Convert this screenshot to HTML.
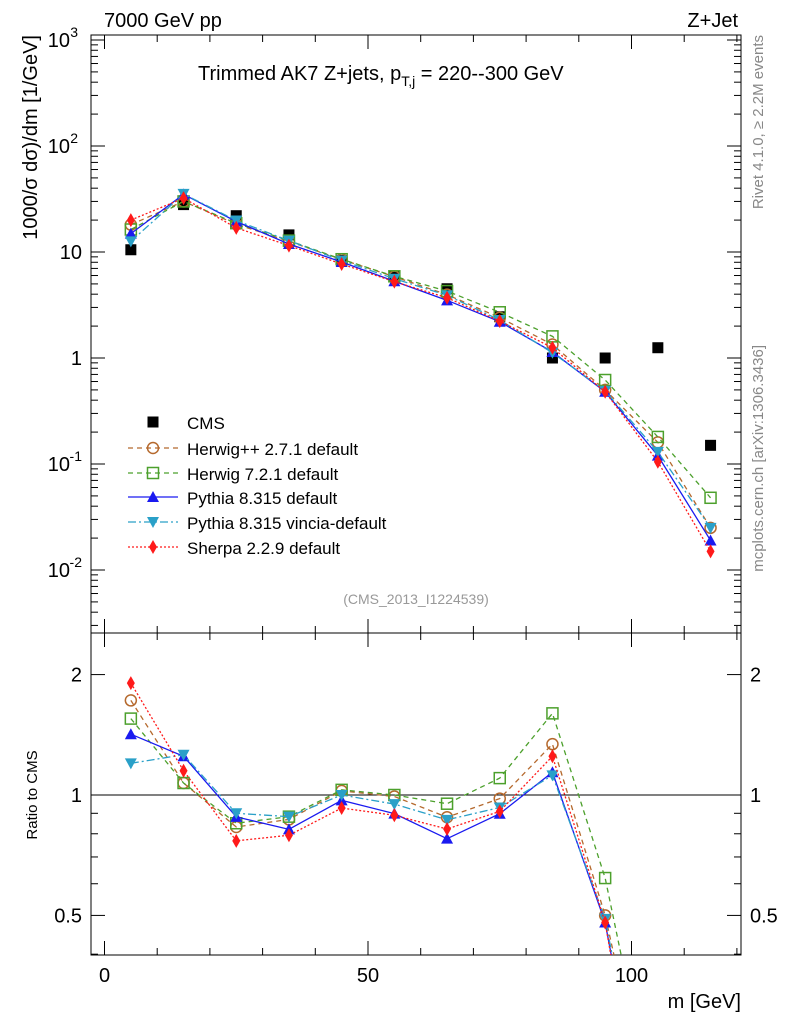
<!DOCTYPE html>
<html><head><meta charset="utf-8"><style>
html,body{margin:0;padding:0;background:#fff;width:786px;height:1024px;overflow:hidden}
svg{display:block;font-family:"Liberation Sans",sans-serif;overflow:hidden}
</style></head><body>
<svg id="c" width="786" height="1024" xmlns="http://www.w3.org/2000/svg"></svg>
<script>
const xs=[5,15,25,35,45,55,65,75,85,95,105,115];
const cms=[10.5,28,22,14.5,8.3,5.9,4.5,2.45,1.0,1.0,1.25,0.15];
const herwigpp=[18.1,30,18.3,12.6,8.5,5.85,3.96,2.4,1.34,0.5,0.16,0.025];
const herwig7=[16.3,30,18.7,12.8,8.55,5.9,4.28,2.7,1.6,0.62,0.18,0.048];
const pythia=[14.9,35,19.4,11.9,8.05,5.3,3.5,2.2,1.14,0.48,0.12,0.019];
const vincia=[12.6,35.3,19.8,12.8,8.3,5.6,3.9,2.28,1.12,0.49,0.13,0.025];
const sherpa=[20,32.2,16.9,11.5,7.7,5.25,3.7,2.23,1.25,0.48,0.105,0.015];
const xTicks=[0,50,100];
const yTicks=[0.01,0.1,1,10,100,1000];
const yTickLabels=["10","10","1","10","10","10"];
const yTickExp=["-2","-1","","","2","3"];
const rTicks=[0.5,1,2];
const rTickLabels=["0.5","1","2"];

const svg=document.getElementById('c');
const NS="http://www.w3.org/2000/svg";
function el(t,a,p){const e=document.createElementNS(NS,t);for(const k in a)e.setAttribute(k,a[k]);(p||svg).appendChild(e);return e;}
const L=91,R=741,T=35,M=633,B=955;
const X=v=>104.5+v*5.27;
const Y=v=>358-106*Math.log10(v);
const RY=v=>795-400*Math.log10(v);

let f=el('rect',{x:L,y:T,width:R-L,height:M-T,fill:'none',stroke:'#000','stroke-width':1});

f=el('rect',{x:L,y:M,width:R-L,height:B-M,fill:'none',stroke:'#000','stroke-width':1});


for(let v=0;v<=120;v+=10){const maj=v%50==0;const len=maj?14:7;
 for(const [y0,d] of [[M,-1],[B,-1],[T,1],[M,1]]){el('line',{x1:X(v),x2:X(v),y1:y0,y2:y0+d*len,stroke:'#000'});}}
xTicks.forEach(v=>{const t=el('text',{x:X(v),y:982,'font-size':20,'text-anchor':'middle'});t.textContent=v;
 });
for(let d=-3;d<=3;d++)for(let m=1;m<10;m++){const v=m*Math.pow(10,d);const y=Y(v);if(y<T||y>M)continue;const len=m==1?14:7;
 el('line',{x1:L,x2:L+len,y1:y,y2:y,stroke:'#000'});el('line',{x1:R,x2:R-len,y1:y,y2:y,stroke:'#000'});}
yTicks.forEach((v,i)=>{const t=el('text',{x:yTickExp[i]?70:82,y:Y(v)+7,'font-size':20,'text-anchor':'end'});t.textContent=yTickLabels[i];
 
 if(yTickExp[i]){const e=el('text',{x:yTickExp[i].length>1?82:78,y:Y(v)-3,'font-size':14,'text-anchor':'end'});e.textContent=yTickExp[i];
 }});
[0.4,0.5,0.6,0.7,0.8,0.9,1,2].forEach(v=>{const y=RY(v);const maj=rTicks.includes(v);const len=maj?14:7;
 el('line',{x1:L,x2:L+len,y1:y,y2:y,stroke:'#000'});el('line',{x1:R,x2:R-len,y1:y,y2:y,stroke:'#000'});});
rTicks.forEach((v,i)=>{for(const [x,a] of [[82,'end'],[750,'start']]){const t=el('text',{x:x,y:RY(v)+7,'font-size':20,'text-anchor':a});t.textContent=rTickLabels[i];
 }});
el('line',{x1:L,x2:R,y1:RY(1),y2:RY(1),stroke:'#000'});

function txt(s,a,name){const t=el('text',a);t.textContent=s;return t;}
txt('7000 GeV pp',{x:104,y:27,'font-size':20},'beam-label');
txt('Z+Jet',{x:738,y:27,'font-size':20,'text-anchor':'end'},'process-label');
const ti=txt('Trimmed AK7 Z+jets, p',{x:198,y:80,'font-size':20},'plot-title');
const ts=el('tspan',{'font-size':14,dy:6},ti);ts.textContent='T,j';
const ts2=el('tspan',{'font-size':20,dy:-6},ti);ts2.textContent=' = 220--300 GeV';
txt('(CMS_2013_I1224539)',{x:416,y:604,'font-size':14,fill:'#999','text-anchor':'middle'},'analysis-id');
txt('m [GeV]',{x:741,y:1008,'font-size':20,'text-anchor':'end'},'x-axis-title');
txt('1000/σ   dσ)/dm [1/GeV]',{x:0,y:0,'font-size':20,'text-anchor':'end',transform:'translate(37,35) rotate(-90)'},'y-axis-title');
txt('Ratio to CMS',{x:0,y:0,'font-size':15,'text-anchor':'middle',transform:'translate(37,795) rotate(-90)'},'ratio-axis-title');
txt('Rivet 4.1.0, ≥ 2.2M events',{x:0,y:0,'font-size':15,fill:'#888','text-anchor':'end',transform:'translate(763,35) rotate(-90)'},'rivet-label');
txt('mcplots.cern.ch [arXiv:1306.3436]',{x:0,y:0,'font-size':15,fill:'#888','text-anchor':'end',transform:'translate(763,345) rotate(-90)'},'mcplots-label');

function marker(g,type,x,y,col){
 if(type=='sq')el('rect',{x:x-5.5,y:y-5.5,width:11,height:11,fill:'#000'},g);
 else if(type=='circ')el('circle',{cx:x,cy:y,r:5.5,fill:'none',stroke:col,'stroke-width':1.5},g);
 else if(type=='osq')el('rect',{x:x-5.5,y:y-5.5,width:11,height:11,fill:'none',stroke:col,'stroke-width':1.5},g);
 else if(type=='tri')el('polygon',{points:`${x},${y-6} ${x-6},${y+5} ${x+6},${y+5}`,fill:col},g);
 else if(type=='itri')el('polygon',{points:`${x},${y+6} ${x-6},${y-5} ${x+6},${y-5}`,fill:col},g);
 else if(type=='dia')el('polygon',{points:`${x},${y-7} ${x-4},${y} ${x},${y+7} ${x+4},${y}`,fill:col},g);
}
// clip a polyline against horizontal bounds [top,bot], return list of point-lists
function clipPoly(pts,top,bot){
 const out=[];let cur=[];
 const inside=p=>p[1]>=top&&p[1]<=bot;
 const cross=(a,b,yl)=>[a[0]+(b[0]-a[0])*(yl-a[1])/(b[1]-a[1]),yl];
 for(let i=0;i<pts.length;i++){
  const p=pts[i];
  if(i>0){const q=pts[i-1];
   const qi=inside(q),pi=inside(p);
   if(qi&&!pi){cur.push(cross(q,p,p[1]>bot?bot:top));out.push(cur);cur=[];}
   else if(!qi&&pi){cur=[cross(q,p,q[1]>bot?bot:top)];}
  }
  if(inside(p))cur.push(p);
 }
 if(cur.length>1)out.push(cur);
 return out;
}
const series=[
 {name:'herwigpp',label:'Herwig++ 2.7.1 default',d:herwigpp,col:'#b5692d',dash:'5,4',m:'circ'},
 {name:'herwig7',label:'Herwig 7.2.1 default',d:herwig7,col:'#4ca02c',dash:'5,4',m:'osq'},
 {name:'pythia',label:'Pythia 8.315 default',d:pythia,col:'#1a1af0',dash:'',m:'tri'},
 {name:'vincia',label:'Pythia 8.315 vincia-default',d:vincia,col:'#2aa0c8',dash:'8,3,2,3',m:'itri'},
 {name:'sherpa',label:'Sherpa 2.2.9 default',d:sherpa,col:'#ff1a1a',dash:'2,2',m:'dia'}];

const gc=el('g',{});
xs.forEach((x,i)=>marker(gc,'sq',X(x),Y(cms[i])));
series.forEach(s=>{
 const g=el('g',{});
 el('polyline',{points:xs.map((x,i)=>X(x)+','+Y(s.d[i])).join(' '),fill:'none',stroke:s.col,'stroke-width':1.3,'stroke-dasharray':s.dash},g);
 xs.forEach((x,i)=>marker(g,s.m,X(x),Y(s.d[i]),s.col));
 const gr=el('g',{});
 const pts=xs.map((x,i)=>[X(x),RY(s.d[i]/cms[i])]);
 clipPoly(pts,M,B).forEach(seg=>{
  el('polyline',{points:seg.map(p=>p[0]+','+p[1]).join(' '),fill:'none',stroke:s.col,'stroke-width':1.3,'stroke-dasharray':s.dash},gr);
 });
 pts.forEach(p=>{if(p[1]>=M+6&&p[1]<=B-6)marker(gr,s.m,p[0],p[1],s.col);});
});

const lg=el('g',{});
const rowsY=[422,448,473,497,522,547];
marker(lg,'sq',153,rowsY[0]);
txt('CMS',{x:187,y:rowsY[0]+7,'font-size':17},'legend-entry');
series.forEach((s,i)=>{const y=rowsY[i+1];
 el('line',{x1:128,x2:178,y1:y,y2:y,stroke:s.col,'stroke-width':1.3,'stroke-dasharray':s.dash},lg);
 marker(lg,s.m,153,y,s.col);
 txt(s.label,{x:187,y:y+7,'font-size':17},'legend-entry');});
</script>
</body></html>
